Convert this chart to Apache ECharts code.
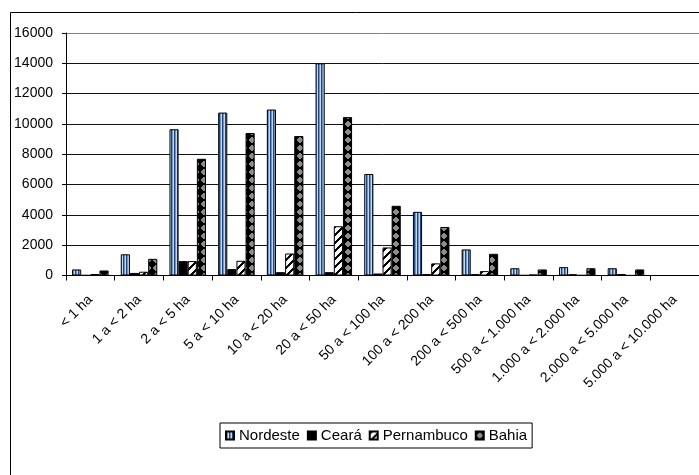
<!DOCTYPE html>
<html>
<head>
<meta charset="utf-8">
<script src="https://cdn.jsdelivr.net/npm/echarts@6/dist/echarts.min.js"></script>
<style>
  html, body { margin: 0; padding: 0; background: #fff; }
  #chart { width: 699px; height: 475px; }
</style>
</head>
<body>
<div id="chart"></div>
<script>
// Farm size classes (hectares)
const categories = [
  '< 1 ha', '1 a < 2 ha', '2 a < 5 ha', '5 a < 10 ha', '10 a < 20 ha',
  '20 a < 50 ha', '50 a < 100 ha', '100 a < 200 ha', '200 a < 500 ha',
  '500 a < 1.000 ha', '1.000 a < 2.000 ha', '2.000 a < 5.000 ha', '5.000 a < 10.000 ha'
];
const seriesNames = ['Nordeste', 'Ceará', 'Pernambuco', 'Bahia'];
const nordeste   = [400, 1400, 9650, 10750, 10950, 14000, 6700, 4200, 1720, 480, 550, 480, 0];
const ceara      = [20, 170, 950, 420, 220, 220, 130, 90, 90, 20, 80, 90, 0];
const pernambuco = [100, 250, 950, 970, 1450, 3250, 1850, 800, 290, 60, 20, 10, 0];
const bahia      = [330, 1100, 7700, 9400, 9200, 10450, 4600, 3200, 1430, 400, 480, 400, 0];
const yTicks = { min: 0, max: 16000, interval: 2000 };

// Fill patterns drawn pixel by pixel on small tiles
function tile(w, h, painter) {
  const c = document.createElement('canvas');
  c.width = w; c.height = h;
  const ctx = c.getContext('2d');
  for (let y = 0; y < h; y++) {
    for (let x = 0; x < w; x++) {
      ctx.fillStyle = painter(x, y);
      ctx.fillRect(x, y, 1, 1);
    }
  }
  return { image: c, repeat: 'repeat' };
}
const stripeShades = ['#23467a', '#6f95c6', '#c4d8ef'];
const stripesVertical = tile(3, 1, (x) => stripeShades[x]);
const solidBlack = '#000000';
const diagonalUp = tile(8, 8, (x, y) => ((x + y) % 8 < 3 ? '#000000' : '#ffffff'));
const diamonds = tile(8, 8, (x, y) => (Math.abs(x - 3.5) + Math.abs(y - 3.5) <= 3.6 ? '#8c8c8c' : '#000000'));

const fills = [stripesVertical, solidBlack, diagonalUp, diamonds];
const values = [nordeste, ceara, pernambuco, bahia];

const font = 'Liberation Sans, Arial, sans-serif';

const chart = echarts.init(document.getElementById('chart'), null, { renderer: 'canvas' });

// top line is the plot-area border (grey), the rest are black gridlines
const gridLineColors = ['#111', '#111', '#111', '#111', '#111', '#111', '#111', '#111', '#808080'];

chart.setOption({
  animation: false,
  backgroundColor: '#ffffff',
  graphic: [{
    type: 'rect',
    shape: { x: 10.5, y: 12.5, width: 760, height: 500 },
    style: { fill: null, stroke: '#000', lineWidth: 1 },
    silent: true,
    z: -10
  }],
  grid: { left: 66, top: 33, width: 640, height: 242.5, containLabel: false },
  legend: {
    data: seriesNames,
    left: 220, top: 423,
    orient: 'horizontal',
    itemWidth: 8, itemHeight: 8, itemGap: 7,
    padding: [5, 5, 5, 5],
    borderColor: '#000', borderWidth: 1,
    icon: 'rect',
    textStyle: { fontFamily: font, fontSize: 15, color: '#000' }
  },
  xAxis: {
    type: 'category',
    data: categories,
    boundaryGap: true,
    axisLine: { lineStyle: { color: '#000', width: 1 } },
    axisTick: { show: true, length: 5, alignWithLabel: false, lineStyle: { color: '#000' } },
    axisLabel: {
      interval: 0, rotate: 45, margin: 22,
      fontFamily: font, fontSize: 14, color: '#000'
    },
    splitLine: { show: false }
  },
  yAxis: {
    type: 'value',
    min: yTicks.min, max: yTicks.max, interval: yTicks.interval,
    axisLine: { show: true, lineStyle: { color: '#000', width: 1 } },
    axisTick: { show: true, length: 4, lineStyle: { color: '#000' } },
    axisLabel: {
      margin: 13, fontFamily: font, fontSize: 14, color: '#000',
      formatter: (v) => String(v)
    },
    splitLine: { show: true, lineStyle: { color: gridLineColors, width: 1 } }
  },
  series: seriesNames.map((name, i) => ({
    name,
    type: 'bar',
    data: values[i],
    barGap: '0%',
    barCategoryGap: '25%',
    itemStyle: { color: fills[i], borderColor: '#000', borderWidth: 1 }
  }))
});
</script>
</body>
</html>
